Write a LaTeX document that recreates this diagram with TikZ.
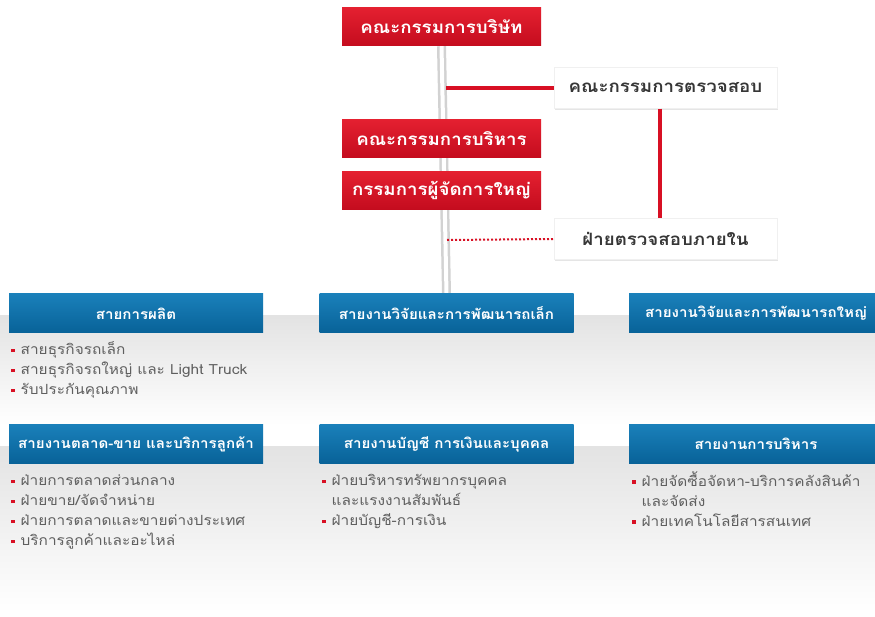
\documentclass[tikz,border=0pt]{standalone}
\usepackage{fontspec}
\setmainfont[Script=Thai]{Loma}
\newfontfamily\boxfont[Script=Thai,FakeStretch=1.1]{Loma}
\newfontfamily\headfont[Script=Thai,FakeStretch=1.08]{Loma}
\newfontfamily\itemfont[Script=Thai,FakeStretch=1.1]{Loma}
\usetikzlibrary{shadows,backgrounds}

\definecolor{redtop}{RGB}{228,32,48}
\definecolor{redbot}{RGB}{196,12,30}
\definecolor{bluetop}{RGB}{26,128,186}
\definecolor{bluebot}{RGB}{8,98,152}
\definecolor{linered}{RGB}{216,16,36}
\definecolor{textdark}{RGB}{55,55,55}
\definecolor{textgray}{RGB}{95,95,95}

\newcommand{\bul}{{\color{linered}\raisebox{0.3ex}{\rule{3.5pt}{3.5pt}}}\hspace{6pt}}
\newcommand{\bulsp}{\hspace*{9.5pt}}
\newcommand{\liststrut}{\rule{0pt}{14pt}}

\begin{document}
\begin{tikzpicture}[
    x=1pt, y=-1pt,
    redbox/.style={top color=redtop, bottom color=redbot, minimum width=199pt, minimum height=38pt,
        inner sep=0pt, text=white, font=\boxfont\bfseries\fontsize{17}{19}\selectfont},
    whitebox/.style={fill=white, draw=gray!12, drop shadow={opacity=0.2, shadow xshift=1pt, shadow yshift=-1.5pt},
        minimum width=223pt, minimum height=41pt, inner sep=0pt, text=textdark,
        font=\boxfont\bfseries\fontsize{17}{19}\selectfont},
    headbox/.style={top color=bluetop, bottom color=bluebot, minimum width=254pt, minimum height=39pt,
        inner sep=0pt, text=white, font=\headfont\bfseries\fontsize{14}{16}\selectfont},
    itemlist/.style={anchor=north west, align=left, inner sep=0pt, text=textgray,
        font=\itemfont\fontsize{14}{20}\selectfont},
    ]
    \useasboundingbox (0,0) rectangle (875,617);

    %Top nodes
    \node[redbox] at (441.5,27) (board) {คณะกรรมการบริษัท};
    \node[whitebox] at (665.5,88) (audit) {คณะกรรมการตรวจสอบ};
    \node[redbox] at (441.5,139) (exec) {คณะกรรมการบริหาร};
    \node[redbox] at (441.5,190.5) (ceo) {กรรมการผู้จัดการใหญ่};
    \node[whitebox] at (665.5,239) (intaudit) {ฝ่ายตรวจสอบภายใน};

    %Headers
    \node[headbox] at (136,313.5) (prod) {สายการผลิต};
    \node[headbox] at (446.5,313.5) (rdsmall) {สายงานวิจัยและการพัฒนารถเล็ก};
    \node[headbox] at (756,313.5) (rdbig) {สายงานวิจัยและการพัฒนารถใหญ่};
    \node[headbox] at (136,444) (market) {สายงานตลาด-ขาย และบริการลูกค้า};
    \node[headbox] at (446.5,444) (finance) {สายงานบัญชี การเงินและบุคคล};
    \node[headbox] at (756,444) (admin) {สายงานการบริหาร};

    %Lists
    \node[itemlist] at (11,340) (prodlist) {\liststrut\bul สายธุรกิจรถเล็ก\\ \bul สายธุรกิจรถใหญ่ และ Light Truck\\ \bul รับประกันคุณภาพ};
    \node[itemlist] at (11,471) (marketlist) {\liststrut\bul ฝ่ายการตลาดส่วนกลาง\\ \bul ฝ่ายขาย/จัดจำหน่าย\\ \bul ฝ่ายการตลาดและขายต่างประเทศ\\ \bul บริการลูกค้าและอะไหล่};
    \node[itemlist] at (322,471) (financelist) {\liststrut\bul ฝ่ายบริหารทรัพยากรบุคคล\\ \bulsp และแรงงานสัมพันธ์\\ \bul ฝ่ายบัญชี-การเงิน};
    \node[itemlist] at (632,471) (adminlist) {\liststrut\bul ฝ่ายจัดซื้อจัดหา-บริการคลังสินค้า\\ \bulsp และจัดส่ง\\ \bul ฝ่ายเทคโนโลยีสารสนเทศ};

    %Background and main line
    \begin{scope}[on background layer]
        \fill[white] (0,0) rectangle (875,617);
        \shade[top color=gray!22, bottom color=white] (0,316) rectangle (875,425);
        \shade[top color=gray!22, bottom color=white] (0,446) rectangle (875,612);
        \draw[draw=gray!35, line width=2.5pt, double=white, double distance=4pt] (board.south) -- (rdsmall.north);
    \end{scope}

    %Lines
    \coordinate (auditjoin) at (446,88);
    \coordinate (iajoin) at (447,240);
    \draw[linered, line width=4pt] (auditjoin) -- (audit.west);
    \draw[linered, line width=2pt, dash pattern=on 2pt off 2pt] (iajoin) -- (intaudit.west);
    \draw[linered, line width=4pt] ([xshift=-6pt]audit.south) -- ([xshift=-6pt]intaudit.north);
\end{tikzpicture}
\end{document}
